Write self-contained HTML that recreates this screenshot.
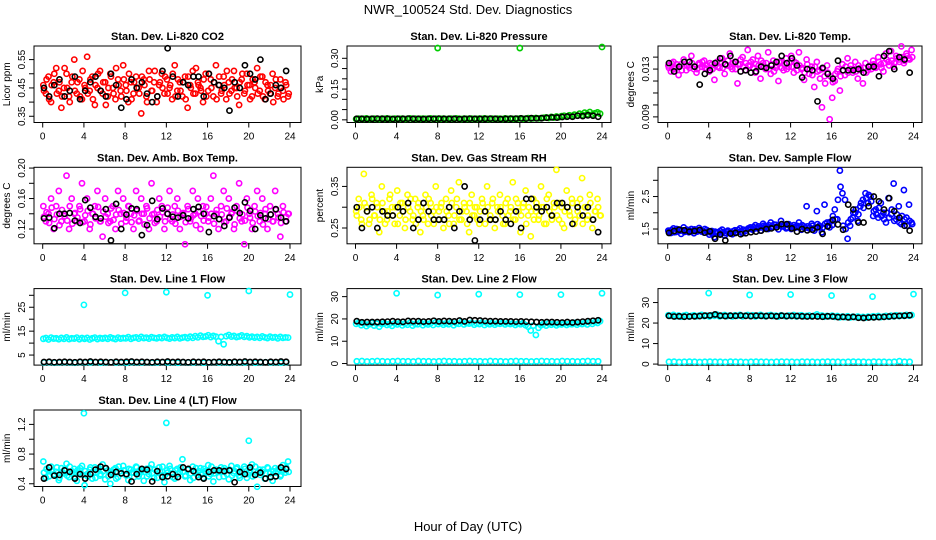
<!DOCTYPE html>
<html><head><meta charset="utf-8"><style>
body{margin:0;background:#fff;}
svg{display:block;font-family:"Liberation Sans",Arial,sans-serif;}
</style></head><body>
<svg id="c" width="936" height="540" viewBox="0 0 936 540">
<text x="468" y="14" text-anchor="middle" font-size="13">NWR_100524  Std. Dev. Diagnostics</text>
<text x="468" y="531" text-anchor="middle" font-size="13">Hour of Day (UTC)</text>
</svg>
<script>
const hourTicks=[0,4,8,12,16,20,24];
// CO2
const co2Red=[0.46,0.43,0.49,0.40,0.47,0.52,0.44,0.38,0.45,0.50,0.42,0.47,0.55,0.43,0.48,0.41,0.46,0.56,0.44,0.49,0.39,0.45,0.51,0.43,0.47,0.42,0.50,0.45,0.41,0.48,0.44,0.53,0.46,0.40,0.47,0.43,0.49,0.45,0.36,0.48,0.42,0.51,0.44,0.47,0.40,0.46,0.50,0.43,0.48,0.45,0.41,0.53,0.44,0.47,0.42,0.49,0.38,0.46,0.51,0.43,0.47,0.45,0.40,0.50,0.44,0.48,0.42,0.53,0.46,0.43,0.49,0.41,0.47,0.44,0.51,0.45,0.39,0.48,0.43,0.50,0.46,0.42,0.47,0.52,0.44,0.49,0.41,0.46,0.43,0.50,0.45,0.42,0.48,0.44,0.47,0.42];
const co2Red2=[0.44,0.48,0.41,0.46,0.50,0.43,0.47,0.42,0.52,0.45,0.40,0.49,0.44,0.47,0.42,0.51,0.45,0.43,0.48,0.41,0.46,0.50,0.44,0.47,0.39,0.45,0.49,0.43,0.52,0.46,0.42,0.48,0.44,0.50,0.41,0.47,0.45,0.43,0.49,0.46,0.40,0.48,0.44,0.51,0.42,0.47,0.45,0.49,0.43,0.46,0.50,0.42,0.48,0.44,0.47,0.41,0.49,0.45,0.43,0.52,0.46,0.44,0.48,0.42,0.50,0.45,0.47,0.41,0.49,0.44,0.46,0.51,0.43,0.48,0.45,0.42,0.47,0.50,0.44,0.46,0.41,0.48,0.45,0.43,0.49,0.42,0.47,0.44,0.46,0.40,0.48,0.43,0.45,0.41,0.46,0.43];
const co2Black=[0.45,0.42,0.46,0.48,0.42,0.44,0.49,0.41,0.44,0.47,0.49,0.44,0.42,0.50,0.46,0.38,0.41,0.48,0.45,0.47,0.43,0.40,0.42,0.51,0.59,0.49,0.42,0.47,0.46,0.49,0.49,0.42,0.50,0.47,0.46,0.45,0.37,0.47,0.45,0.53,0.50,0.48,0.55,0.41,0.43,0.46,0.45,0.51];
// Pressure
const presGreen=[0.004,0.006,0.005,0.005,0.007,0.004,0.005,0.006,0.005,0.004,0.006,0.005,0.007,0.005,0.004,0.006,0.005,0.005,0.006,0.004,0.005,0.007,0.005,0.006,0.004,0.005,0.006,0.005,0.005,0.007,0.004,0.006,0.005,0.005,0.006,0.004,0.005,0.006,0.005,0.007,0.005,0.004,0.006,0.005,0.005,0.006,0.004,0.005,0.006,0.005,0.007,0.005,0.004,0.006,0.005,0.006,0.005,0.004,0.007,0.005,0.006,0.005,0.005,0.006,0.007,0.005,0.006,0.008,0.006,0.007,0.009,0.007,0.008,0.010,0.012,0.009,0.014,0.011,0.016,0.013,0.018,0.020,0.015,0.022,0.019,0.025,0.021,0.030,0.024,0.035,0.028,0.038,0.026,0.032,0.036,0.030];
const presBlack=[0.005,0.005,0.004,0.005,0.006,0.005,0.005,0.004,0.005,0.005,0.006,0.005,0.005,0.004,0.005,0.005,0.006,0.005,0.005,0.005,0.004,0.005,0.006,0.005,0.005,0.005,0.006,0.005,0.004,0.005,0.006,0.006,0.007,0.006,0.008,0.007,0.008,0.010,0.012,0.011,0.014,0.016,0.015,0.020,0.018,0.022,0.020,0.015];
const presOutHour=[8,16,24];
const presOutVal=[0.35,0.35,0.355];
// Li-820 temp
const tempMag=[0.0133,0.0128,0.0136,0.0131,0.0125,0.0134,0.0138,0.0129,0.0133,0.0141,0.0130,0.0127,0.0135,0.0132,0.0137,0.0130,0.0128,0.0134,0.0121,0.0136,0.0131,0.0139,0.0126,0.0133,0.0143,0.0130,0.0136,0.0118,0.0134,0.0140,0.0129,0.0146,0.0133,0.0138,0.0127,0.0141,0.0122,0.0135,0.0130,0.0144,0.0126,0.0137,0.0131,0.0120,0.0136,0.0129,0.0139,0.0132,0.0141,0.0127,0.0135,0.0144,0.0130,0.0121,0.0138,0.0126,0.0132,0.0115,0.0136,0.0129,0.0098,0.0124,0.0133,0.0088,0.0106,0.0120,0.0128,0.0112,0.0134,0.0125,0.0139,0.0130,0.0127,0.0136,0.0122,0.0131,0.0118,0.0135,0.0129,0.0133,0.0137,0.0131,0.0140,0.0134,0.0128,0.0143,0.0136,0.0145,0.0132,0.0141,0.0138,0.0149,0.0135,0.0143,0.0139,0.0146];
const tempMag2=[0.0131,0.0135,0.0130,0.0134,0.0132,0.0129,0.0136,0.0133,0.0131,0.0135,0.0132,0.0130,0.0134,0.0136,0.0131,0.0133,0.0135,0.0130,0.0133,0.0132,0.0136,0.0131,0.0134,0.0137,0.0132,0.0135,0.0130,0.0134,0.0138,0.0132,0.0135,0.0133,0.0136,0.0131,0.0134,0.0133,0.0137,0.0132,0.0135,0.0130,0.0134,0.0128,0.0133,0.0136,0.0131,0.0134,0.0130,0.0135,0.0132,0.0136,0.0129,0.0133,0.0131,0.0127,0.0134,0.0130,0.0125,0.0132,0.0128,0.0122,0.0130,0.0118,0.0127,0.0124,0.0119,0.0126,0.0130,0.0124,0.0129,0.0132,0.0127,0.0133,0.0130,0.0128,0.0133,0.0129,0.0131,0.0127,0.0132,0.0130,0.0134,0.0132,0.0136,0.0131,0.0135,0.0138,0.0133,0.0137,0.0135,0.0139,0.0136,0.0140,0.0137,0.0141,0.0138,0.0140];
const tempBlack=[0.0135,0.0128,0.0132,0.0136,0.0136,0.0132,0.0117,0.0126,0.0129,0.0135,0.0139,0.0134,0.0141,0.0136,0.0128,0.0129,0.0127,0.0128,0.0132,0.0131,0.0133,0.0136,0.0141,0.0135,0.0139,0.0133,0.0123,0.0130,0.0129,0.0103,0.0131,0.0126,0.0122,0.0137,0.0129,0.0129,0.0129,0.0130,0.0127,0.0132,0.0132,0.0124,0.0141,0.0145,0.0130,0.0140,0.0138,0.0127];
// Amb box temp
const ambMag=[0.15,0.13,0.14,0.16,0.12,0.15,0.17,0.13,0.14,0.19,0.12,0.16,0.14,0.13,0.15,0.18,0.13,0.16,0.12,0.14,0.15,0.17,0.13,0.11,0.16,0.14,0.13,0.15,0.12,0.17,0.14,0.16,0.13,0.15,0.14,0.12,0.17,0.13,0.16,0.14,0.15,0.12,0.18,0.14,0.13,0.16,0.15,0.12,0.14,0.17,0.13,0.15,0.16,0.12,0.14,0.10,0.15,0.13,0.17,0.14,0.16,0.12,0.15,0.14,0.13,0.16,0.19,0.14,0.12,0.15,0.17,0.13,0.16,0.14,0.12,0.15,0.18,0.13,0.10,0.16,0.14,0.12,0.15,0.17,0.13,0.16,0.14,0.12,0.15,0.13,0.17,0.14,0.11,0.15,0.13,0.14];
const ambMag2=[0.136,0.142,0.128,0.148,0.133,0.139,0.125,0.145,0.137,0.131,0.150,0.127,0.141,0.135,0.146,0.129,0.138,0.144,0.126,0.140,0.134,0.149,0.130,0.143,0.136,0.128,0.147,0.132,0.139,0.145,0.127,0.141,0.135,0.150,0.129,0.138,0.144,0.131,0.140,0.126,0.147,0.134,0.139,0.128,0.145,0.136,0.142,0.130,0.148,0.133,0.139,0.127,0.144,0.136,0.141,0.129,0.146,0.134,0.138,0.125,0.143,0.137,0.131,0.149,0.135,0.140,0.127,0.145,0.133,0.139,0.129,0.147,0.136,0.142,0.126,0.144,0.134,0.139,0.131,0.148,0.135,0.128,0.143,0.137,0.141,0.126,0.146,0.133,0.139,0.130,0.145,0.135,0.128,0.142,0.136,0.140];
const ambBlack=[0.134,0.135,0.121,0.140,0.140,0.141,0.131,0.128,0.158,0.148,0.136,0.134,0.146,0.105,0.153,0.120,0.139,0.147,0.146,0.112,0.125,0.157,0.133,0.147,0.140,0.136,0.135,0.138,0.134,0.146,0.149,0.140,0.116,0.137,0.133,0.124,0.135,0.148,0.141,0.155,0.144,0.120,0.138,0.134,0.139,0.146,0.135,0.130];
// RH
const rhYellow=[0.29,0.32,0.27,0.38,0.30,0.26,0.33,0.28,0.31,0.24,0.35,0.29,0.27,0.32,0.30,0.26,0.34,0.28,0.31,0.25,0.33,0.29,0.27,0.32,0.30,0.24,0.28,0.33,0.26,0.31,0.29,0.35,0.27,0.30,0.25,0.32,0.28,0.34,0.26,0.30,0.36,0.27,0.31,0.29,0.24,0.33,0.28,0.30,0.26,0.32,0.29,0.35,0.27,0.31,0.25,0.30,0.33,0.28,0.26,0.32,0.29,0.36,0.27,0.31,0.24,0.30,0.34,0.28,0.23,0.32,0.29,0.27,0.35,0.30,0.26,0.33,0.28,0.31,0.39,0.27,0.30,0.25,0.34,0.29,0.32,0.26,0.31,0.28,0.37,0.30,0.27,0.33,0.25,0.29,0.32,0.28];
const rhYellow2=[0.28,0.30,0.26,0.31,0.29,0.27,0.32,0.28,0.30,0.27,0.31,0.26,0.29,0.33,0.28,0.30,0.26,0.31,0.29,0.27,0.30,0.32,0.28,0.26,0.31,0.29,0.27,0.30,0.32,0.28,0.26,0.30,0.29,0.31,0.27,0.29,0.26,0.31,0.28,0.32,0.27,0.29,0.30,0.26,0.31,0.28,0.30,0.27,0.29,0.31,0.26,0.30,0.28,0.32,0.27,0.29,0.30,0.26,0.31,0.28,0.30,0.27,0.32,0.29,0.28,0.31,0.26,0.30,0.29,0.27,0.31,0.28,0.30,0.26,0.32,0.29,0.27,0.30,0.28,0.31,0.26,0.29,0.30,0.28,0.31,0.27,0.29,0.32,0.26,0.30,0.28,0.31,0.27,0.29,0.30,0.28];
const rhBlack=[0.30,0.25,0.29,0.30,0.25,0.29,0.28,0.28,0.30,0.29,0.31,0.25,0.27,0.31,0.29,0.27,0.27,0.27,0.30,0.25,0.29,0.35,0.27,0.22,0.27,0.29,0.27,0.27,0.29,0.27,0.26,0.29,0.25,0.32,0.32,0.30,0.29,0.30,0.28,0.31,0.31,0.30,0.26,0.30,0.28,0.30,0.27,0.24];
// Sample flow
const flowBlue=[1.45,1.38,1.52,1.41,1.48,1.35,1.55,1.43,1.40,1.50,1.37,1.46,1.53,1.42,1.39,1.47,1.33,1.44,1.25,1.40,1.36,1.48,1.30,1.42,1.38,1.34,1.46,1.40,1.52,1.37,1.44,1.50,1.55,1.48,1.62,1.52,1.45,1.66,1.58,1.50,1.70,1.56,1.63,1.49,1.75,1.58,1.52,1.65,1.50,1.62,1.55,1.70,1.48,1.58,2.20,1.52,1.66,1.45,2.05,1.60,1.40,2.25,1.70,1.55,1.62,2.10,1.80,3.30,2.60,2.40,1.20,1.60,1.85,2.00,1.75,2.20,2.40,2.60,2.30,2.50,1.90,2.10,1.85,2.30,2.00,1.70,2.45,1.95,2.90,1.80,2.20,1.65,2.70,1.85,2.25,1.70];
const flowBlue2=[1.42,1.47,1.40,1.50,1.44,1.46,1.41,1.48,1.45,1.43,1.49,1.42,1.46,1.44,1.50,1.41,1.40,1.36,1.42,1.38,1.44,1.40,1.37,1.45,1.41,1.43,1.39,1.47,1.42,1.48,1.45,1.52,1.50,1.56,1.53,1.58,1.55,1.60,1.54,1.62,1.57,1.64,1.56,1.60,1.58,1.63,1.55,1.61,1.57,1.54,1.60,1.56,1.62,1.53,1.58,1.55,1.60,1.52,1.65,1.58,1.54,1.66,1.60,1.72,1.90,1.80,2.40,2.80,1.60,1.50,1.70,1.80,2.00,2.10,1.95,2.30,2.15,2.45,2.55,2.35,2.05,1.95,2.15,1.90,1.80,2.00,1.85,2.10,1.75,1.95,1.70,1.90,1.80,1.60,1.75,1.65];
const flowBlack=[1.38,1.44,1.48,1.46,1.42,1.44,1.47,1.39,1.43,1.20,1.33,1.15,1.36,1.38,1.34,1.37,1.40,1.42,1.45,1.50,1.52,1.55,1.65,1.65,1.52,1.42,1.50,1.46,1.48,1.55,1.35,1.58,1.78,1.64,1.48,2.25,2.10,1.70,1.70,2.20,2.50,2.35,2.10,2.45,2.05,1.85,1.60,1.45];
// Line 1
const l1Band=[11.8,12.1,11.5,12.3,11.9,12.0,11.6,12.2,11.8,12.4,11.7,12.0,11.9,12.3,11.6,12.1,11.8,12.2,11.5,12.0,12.3,11.7,12.1,11.9,12.2,11.8,12.4,12.0,11.7,12.3,11.9,12.1,12.0,12.5,11.8,12.2,12.4,11.9,12.6,12.1,12.3,11.9,12.5,12.2,12.0,12.4,12.1,12.6,12.2,11.9,12.4,12.1,12.6,12.0,12.3,12.5,12.1,12.7,12.2,12.9,12.4,13.1,12.6,12.8,13.3,12.5,13.0,12.7,10.8,12.6,9.5,12.9,13.4,12.7,13.0,12.5,12.8,13.2,12.6,12.9,12.4,12.7,12.3,12.6,12.2,12.8,12.4,12.1,12.7,12.3,12.5,12.0,12.6,12.2,12.4,12.3];
const l1Low=[1.9,2.0,1.8,1.9,2.0,1.9,1.8,2.0,1.9,1.9,2.0,1.8,1.9,2.0,1.9,1.9,1.8,2.0,1.9,1.9,2.0,1.8,1.9,2.0,1.9,1.9,1.8,2.0,1.9,1.9,2.0,1.8,1.9,2.0,1.9,1.9,1.8,2.0,1.9,1.9,2.0,1.8,1.9,2.0,1.9,1.9,1.8,2.0];
const l1Black=[2.1,2.2,2.0,2.1,2.2,2.1,2.0,2.2,2.1,2.3,2.1,2.2,2.1,2.0,2.2,2.1,2.2,2.3,2.1,2.2,2.1,2.0,2.2,2.1,2.3,2.1,2.2,2.1,2.0,2.2,2.1,2.2,2.0,2.1,2.2,2.1,2.0,2.2,2.1,2.3,2.1,2.2,2.1,2.0,2.2,2.1,2.3,2.2];
const l1OutHour=[4,8,12,16,20,24];
const l1OutVal=[26,31,31.3,30,31.8,30.3];
// Line 2
const l2Band=[17.8,18.3,17.2,18.0,16.8,17.6,18.2,17.0,17.9,16.5,17.7,18.1,17.3,17.8,16.9,18.0,17.5,18.2,17.1,17.9,17.4,18.3,17.0,17.8,17.6,18.4,17.2,18.0,17.5,18.1,17.3,18.5,17.7,18.2,17.4,18.0,17.6,18.4,17.2,18.1,17.8,18.6,17.5,18.2,17.9,18.3,17.4,18.0,17.7,18.4,17.3,18.1,17.6,18.2,17.4,18.0,17.8,18.3,17.5,18.1,17.7,18.0,17.3,17.9,17.6,18.1,17.2,16.5,14.8,17.0,12.8,16.0,17.2,17.8,17.0,18.0,17.4,17.9,17.1,17.7,17.5,18.0,17.3,17.8,17.6,18.2,17.4,18.0,17.7,18.3,17.5,18.5,17.8,18.6,18.2,19.0];
const l2Low=[1.0,1.1,0.9,1.0,1.1,1.0,0.9,1.0,1.1,1.0,1.0,0.9,1.1,1.0,1.0,0.9,1.0,1.1,1.0,1.0,0.9,1.0,1.1,1.0,1.0,0.9,1.1,1.0,1.0,0.9,1.0,1.1,1.0,1.0,0.9,1.0,1.1,1.0,1.0,0.9,1.1,1.0,1.0,0.9,1.0,1.1,1.0,1.0];
const l2Black=[19.0,18.5,18.6,18.6,18.6,18.7,18.8,19.0,18.8,18.7,19.1,19.0,19.0,18.8,18.9,19.2,18.9,19.1,19.0,18.9,19.3,18.9,19.5,19.4,19.3,19.1,19.0,19.0,18.9,18.9,18.9,18.8,18.9,18.8,18.7,18.6,18.5,18.6,18.6,18.5,18.4,18.6,18.4,18.6,18.8,19.0,19.2,19.4];
const l2OutHour=[4,8,12,16,20,24];
const l2OutVal=[31.5,30.7,31.1,30.9,30.9,31.5];
// Line 3
const l3Band=[23.8,23.5,24.0,23.3,23.7,23.1,23.6,23.9,23.2,23.5,23.8,23.3,23.6,24.0,23.4,23.7,23.2,23.8,23.5,24.1,23.3,23.6,23.9,23.4,23.7,23.2,23.8,23.5,24.0,23.3,23.6,23.9,23.4,23.8,23.2,23.6,24.0,23.5,23.3,23.7,23.9,23.4,23.6,23.2,23.8,23.5,23.3,23.7,23.4,23.9,23.2,23.6,23.8,23.3,23.5,23.7,23.2,23.6,24.2,23.4,23.7,23.1,23.5,23.3,23.6,23.0,23.4,22.8,23.2,22.9,23.3,22.7,23.1,22.9,23.2,22.8,23.0,22.6,23.1,22.9,23.3,23.0,23.4,22.9,23.2,23.5,23.1,23.6,23.3,23.8,23.4,23.7,23.5,24.0,23.6,23.9];
const l3Low=[1.1,1.2,1.0,1.1,1.2,1.1,1.0,1.1,1.2,1.1,1.1,1.0,1.2,1.1,1.1,1.0,1.1,1.2,1.1,1.1,1.0,1.1,1.2,1.1,1.1,1.0,1.2,1.1,1.1,1.0,1.1,1.2,1.1,1.1,1.0,1.1,1.2,1.1,1.1,1.0,1.2,1.1,1.1,1.0,1.1,1.4,1.1,1.1];
const l3Black=[23.5,23.2,23.3,23.1,23.2,23.3,23.4,23.6,23.7,24.2,23.6,23.4,23.6,23.5,23.7,23.5,23.4,23.6,23.5,23.4,23.5,23.3,23.6,23.4,23.5,23.4,23.3,23.2,23.3,23.2,23.1,23.3,23.2,22.9,23.0,22.8,23.0,22.6,22.5,22.7,22.8,22.9,23.0,23.2,23.4,23.5,23.6,23.8];
const l3OutHour=[4,8,12,16,20,24];
const l3OutVal=[34.6,33.7,33.9,33.4,32.9,34.1];
// Line 4
const l4Cyan=[0.70,0.48,0.58,0.63,0.52,0.56,0.45,0.61,0.54,0.67,0.49,0.57,0.60,0.44,0.55,0.64,0.38,0.53,0.59,0.47,0.62,0.56,0.51,0.66,0.46,0.58,0.40,0.54,0.61,0.49,0.57,0.64,0.52,0.45,0.59,0.55,0.63,0.50,0.56,0.44,0.60,0.53,0.66,0.48,0.57,0.62,0.51,0.42,0.58,0.64,0.54,0.47,0.60,0.56,0.73,0.50,0.59,0.45,0.63,0.55,0.52,0.61,0.48,0.57,0.65,0.53,0.43,0.59,0.56,0.62,0.50,0.58,0.46,0.64,0.54,0.60,0.51,0.57,0.63,0.48,0.55,0.66,0.52,0.36,0.59,0.56,0.47,0.62,0.54,0.44,0.61,0.57,0.50,0.65,0.55,0.70];
const l4Cyan2=[0.55,0.60,0.50,0.57,0.53,0.62,0.48,0.56,0.59,0.51,0.63,0.54,0.49,0.58,0.61,0.52,0.57,0.50,0.62,0.55,0.48,0.60,0.53,0.57,0.61,0.50,0.56,0.59,0.47,0.63,0.54,0.58,0.51,0.60,0.55,0.49,0.62,0.53,0.58,0.56,0.50,0.61,0.54,0.59,0.48,0.57,0.63,0.52,0.55,0.60,0.49,0.58,0.53,0.62,0.56,0.51,0.59,0.54,0.48,0.61,0.57,0.52,0.60,0.55,0.50,0.63,0.54,0.58,0.49,0.56,0.61,0.53,0.59,0.51,0.57,0.62,0.48,0.55,0.60,0.53,0.58,0.50,0.63,0.56,0.52,0.59,0.54,0.61,0.49,0.57,0.55,0.60,0.52,0.58,0.62,0.56];
const l4Black=[0.47,0.62,0.51,0.52,0.58,0.56,0.47,0.53,0.47,0.53,0.59,0.63,0.61,0.52,0.56,0.54,0.53,0.43,0.53,0.60,0.59,0.43,0.57,0.49,0.50,0.53,0.49,0.62,0.60,0.57,0.49,0.47,0.56,0.58,0.58,0.57,0.58,0.42,0.56,0.53,0.62,0.52,0.55,0.47,0.49,0.50,0.62,0.60];
const l4OutHour=[4,12,20];
const l4OutVal=[1.35,1.22,0.98];

const NS="http://www.w3.org/2000/svg";
const svg=document.getElementById('c');
const cols=[{L:34,R:301,x0:42.7,x24:290},{L:347,R:611,x0:355.5,x24:602},{L:658,R:922,x0:667.7,x24:913.5}];
const rowTop=[46,167.3,288.6,410];const H=76.5;
function mk(tag,attrs,parent){const e=document.createElementNS(NS,tag);for(const k in attrs)e.setAttribute(k,attrs[k]);(parent||svg).appendChild(e);return e;}
const panels=[
 {t:'Stan. Dev. Li-820 CO2',yl:'Licor ppm',r:0,c:0,lo:0.328,hi:0.598,ticks:[0.35,0.40,0.45,0.50,0.55],labs:['0.35','0.45','0.55'],labIdx:[0,2,4],ser:[[co2Red,'#ff0000',0],[co2Red2,'#ff0000',0.5],[co2Black,'#000',0]]},
 {t:'Stan. Dev. Li-820 Pressure',yl:'kPa',r:0,c:1,lo:-0.013,hi:0.36,ticks:[0,0.05,0.10,0.15,0.20,0.25,0.30],labs:['0.00','0.15','0.30'],labIdx:[0,3,6],ser:[[presGreen,'#00cc00',0],[presBlack,'#000',0]],out:[presOutHour,presOutVal,'#00cc00']},
 {t:'Stan. Dev. Li-820 Temp.',yl:'degrees C',r:0,c:2,lo:0.00853,hi:0.01493,ticks:[0.009,0.010,0.011,0.012,0.013,0.014],labs:['0.009','0.013'],labIdx:[0,4],ser:[[tempMag,'#ff00ff',0],[tempMag2,'#ff00ff',0.5],[tempBlack,'#000',0]]},
 {t:'Stan. Dev. Amb. Box Temp.',yl:'degrees C',r:1,c:0,lo:0.1006,hi:0.201,ticks:[0.12,0.14,0.16,0.18,0.20],labs:['0.12','0.16','0.20'],labIdx:[0,2,4],ser:[[ambMag,'#ff00ff',0],[ambMag2,'#ff00ff',0.5],[ambBlack,'#000',0]]},
 {t:'Stan. Dev. Gas Stream RH',yl:'percent',r:1,c:1,lo:0.212,hi:0.396,ticks:[0.25,0.30,0.35],labs:['0.25','0.35'],labIdx:[0,2],ser:[[rhYellow,'#ffff00',0],[rhYellow2,'#ffff00',0.5],[rhBlack,'#000',0]]},
 {t:'Stan. Dev. Sample Flow',yl:'ml/min',r:1,c:2,lo:1.045,hi:3.4,ticks:[1.5,2.0,2.5,3.0],labs:['1.5','2.5'],labIdx:[0,2],ser:[[flowBlue,'#0000ff',0],[flowBlue2,'#0000ff',0.5],[flowBlack,'#000',0]]},
 {t:'Stan. Dev. Line 1 Flow',yl:'ml/min',r:2,c:0,lo:0.8,hi:32.8,ticks:[5,10,15,20,25,30],labs:['5','15','25'],labIdx:[0,2,4],ser:[[l1Band,'#00ffff',0],[l1Low,'#00ffff',0],[l1Black,'#000',0]],out:[l1OutHour,l1OutVal,'#00ffff']},
 {t:'Stan. Dev. Line 2 Flow',yl:'ml/min',r:2,c:1,lo:-0.7,hi:33.6,ticks:[0,10,20,30],labs:['0','10','20','30'],labIdx:[0,1,2,3],ser:[[l2Band,'#00ffff',0],[l2Low,'#00ffff',0],[l2Black,'#000',0]],out:[l2OutHour,l2OutVal,'#00ffff']},
 {t:'Stan. Dev. Line 3 Flow',yl:'ml/min',r:2,c:2,lo:-0.5,hi:36.8,ticks:[0,10,20,30],labs:['0','10','20','30'],labIdx:[0,1,2,3],ser:[[l3Band,'#00ffff',0],[l3Low,'#00ffff',0],[l3Black,'#000',0]],out:[l3OutHour,l3OutVal,'#00ffff']},
 {t:'Stan. Dev. Line 4 (LT) Flow',yl:'ml/min',r:3,c:0,lo:0.363,hi:1.394,ticks:[0.4,0.6,0.8,1.0,1.2],labs:['0.4','0.8','1.2'],labIdx:[0,2,4],ser:[[l4Cyan,'#00ffff',0],[l4Cyan2,'#00ffff',0.5],[l4Black,'#000',0]],out:[l4OutHour,l4OutVal,'#00ffff']}
];
panels.forEach((p,pi)=>{
 const col=cols[p.c];const top=rowTop[p.r];const bot=top+H;
 const g=mk('g',{});
 
 
 const xs=h=>col.x0+(col.x24-col.x0)*h/24;
 const ys=v=>bot-(v-p.lo)/(p.hi-p.lo)*H;
 const box=mk('rect',{x:col.L,y:top,width:col.R-col.L,height:H,fill:'none',stroke:'#000','stroke-width':1},g);
 
 
 const tt=mk('text',{x:(col.L+col.R)/2,y:top-6,'text-anchor':'middle','font-size':11,'font-weight':'bold'},g);tt.textContent=p.t;
 
 
 mk('line',{x1:xs(0),x2:xs(24),y1:bot,y2:bot,stroke:'#000'},g);
 hourTicks.forEach(h=>{mk('line',{x1:xs(h),x2:xs(h),y1:bot,y2:bot+5,stroke:'#000'},g);
  const t=mk('text',{x:xs(h),y:bot+17,'text-anchor':'middle','font-size':10},g);t.textContent=h;
  
  });
 mk('line',{x1:col.L,x2:col.L,y1:ys(p.ticks[0]),y2:ys(p.ticks[p.ticks.length-1]),stroke:'#000'},g);
 p.ticks.forEach(v=>mk('line',{x1:col.L-5,x2:col.L,y1:ys(v),y2:ys(v),stroke:'#000'},g));
 p.labIdx.forEach((ti,k)=>{const y=ys(p.ticks[ti]);const t=mk('text',{x:col.L-9,y:y,'text-anchor':'middle','font-size':10,transform:`rotate(-90 ${col.L-9} ${y})`},g);t.textContent=p.labs[k];
  
  });
 const yt=mk('text',{x:col.L-24,y:(top+bot)/2,'text-anchor':'middle','font-size':10,transform:`rotate(-90 ${col.L-24} ${(top+bot)/2})`},g);yt.textContent=p.yl;
 
 
 const draw=(h,v,color)=>{const c=mk('circle',{cx:xs(h),cy:ys(v),r:2.6,fill:'none',stroke:color,'stroke-width':1.6},g);
  
  };
 p.ser.forEach(([arr,color,off])=>{const n=arr.length;arr.forEach((v,i)=>draw((i+0.25+off*0.5)*24/n,v,color));});
 if(p.out){p.out[0].forEach((h,i)=>draw(h,p.out[1][i],p.out[2]));}
});
</script>
</body></html>
